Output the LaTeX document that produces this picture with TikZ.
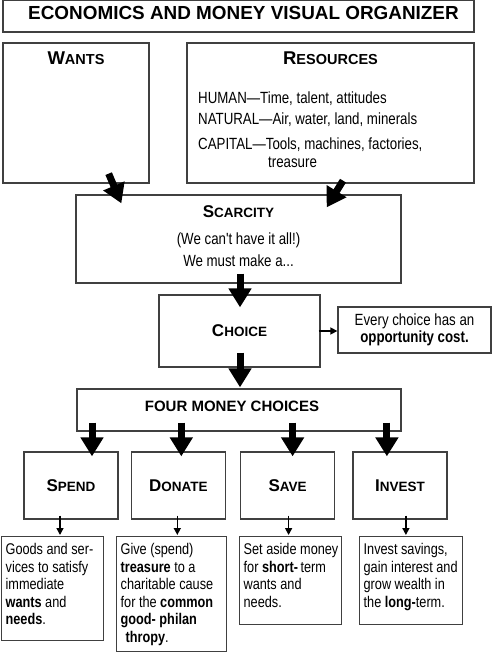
\documentclass[tikz,border=0pt]{standalone}
\usepackage{fontspec}
\setmainfont{Liberation Sans}
\newfontfamily\narrowfont[FakeStretch=0.82]{Liberation Sans}
\usetikzlibrary{arrows.meta,positioning,calc}
\newcommand{\descfont}{\narrowfont\fontsize{15.5pt}{17.5pt}\selectfont}
\newcommand{\listfont}{\narrowfont\fontsize{16.2pt}{17.5pt}\selectfont}
\newcommand{\headsc}[2]{{\rmfamily\bfseries\fontsize{18.5pt}{20pt}\selectfont #1\fontsize{14.5pt}{16pt}\selectfont #2}}
\newcommand{\boxsc}[2]{{\rmfamily\bfseries\fontsize{17pt}{19pt}\selectfont #1\fontsize{13.5pt}{15pt}\selectfont #2}}
\newcommand{\desclines}[3]{\makebox[#2][l]{\parbox[t][#1][t]{\dimexpr#2+20pt\relax}{\raggedright #3}}}
\newcommand{\lowerby}[1]{\rule[-#1]{0pt}{#1}}

\begin{document}
\begin{tikzpicture}[
    x=1pt, y=-1pt,
    box/.style={rectangle, draw=black!75, line width=1.3pt, inner sep=0pt},
    choicebox/.style={box, minimum width=94pt, minimum height=67pt},
    descbox/.style={box, anchor=north west, inner xsep=4pt, inner ysep=7pt, font=\descfont},
    bigarrow/.style={line width=7pt, -{Triangle[width=22pt,length=19pt]}},
    smallarrow/.style={line width=1.5pt, -{Triangle[width=7pt,length=7pt]}}
]
    \useasboundingbox (0,0) rectangle (500,660);

    \node[box, minimum width=471pt, minimum height=32pt] (title) at (238.5,16) {\bfseries\fontsize{18.9pt}{20pt}\selectfont\hspace*{10pt}ECONOMICS AND MONEY VISUAL ORGANIZER\lowerby{6pt}};

    \node[box, minimum width=146pt, minimum height=140pt] (wants) at (76,113) {};
    \node[below=9pt of wants.north, inner sep=0pt] (wantshead) {\headsc{W}{ANTS}};
    \node[box, minimum width=287pt, minimum height=140pt] (resources) at (330.5,113) {};
    \node[below=9pt of resources.north, inner sep=0pt] (reshead) {\headsc{R}{ESOURCES}};
    \node[anchor=north west, align=left, inner sep=0pt, font=\listfont] (reslist) at (198,92) {HUMAN—Time, talent, attitudes\\[3.5pt]
        NATURAL—Air, water, land, minerals\\[7.5pt]
        CAPITAL—Tools, machines, factories,\\
        \hspace*{70pt}treasure};

    \node[box, minimum width=325pt, minimum height=88pt, align=center, font=\listfont] (scarcity) at (238.5,239) {\boxsc{S}{CARCITY}\\[10pt]
        (We can't have it all!)\\[4.5pt]
        We must make a...\lowerby{6pt}};

    \node[box, minimum width=161pt, minimum height=72pt] (choice) at (239.5,331) {\boxsc{C}{HOICE}};
    \node[box, minimum width=153pt, minimum height=46pt, align=center, font=\listfont] (opp) at (414.5,330) {Every choice has an\\\textbf{opportunity cost.}};

    \node[box, minimum width=324pt, minimum height=42pt] (four) at (239,410) {\bfseries\fontsize{15pt}{17pt}\selectfont\hspace*{-14pt}FOUR MONEY CHOICES\lowerby{8pt}};

    \node[choicebox] (spend) at (71,485.5) {\boxsc{S}{PEND}};
    \node[choicebox, right=12pt of spend] (donate) {\boxsc{D}{ONATE}};
    \node[choicebox, right=14pt of donate] (save) {\boxsc{S}{AVE}};
    \node[choicebox, right=17pt of save] (invest) {\boxsc{I}{NVEST}};

    \node[descbox] (spenddesc) at (1,536) {\desclines{90pt}{94pt}{Goods and ser-\\vices to satisfy\\immediate\\\textbf{wants} and\\\textbf{needs}.}};
    \node[descbox] (donatedesc) at (116,536) {\desclines{101pt}{102pt}{Give (spend)\\\textbf{treasure} to a\\charitable cause\\for the \textbf{common}\\\textbf{good- philan}\\\hspace*{5pt}\textbf{thropy}.}};
    \node[descbox] (savedesc) at (239,536) {\desclines{74pt}{94pt}{Set aside money\\for \textbf{short-}\thinspace term\\wants and\\needs.}};
    \node[descbox] (investdesc) at (359,536) {\desclines{74pt}{95pt}{Invest savings,\\gain interest and\\grow wealth in\\the \textbf{long-}term.}};

    \draw[bigarrow] ($(wants.south east)+(-41,-10)$) -- ($(scarcity.north west)+(46,9)$);
    \draw[bigarrow] ($(resources.south)+(12.5,-3)$) -- ($(scarcity.north east)+(-75,13)$);
    \draw[bigarrow] ($(scarcity.south)+(1.5,-10)$) -- ($(choice.north)+(0.5,13)$);
    \draw[smallarrow] ($(choice.east)+(-2,0)$) -- (choice.east -| opp.west);
    \draw[bigarrow] ($(choice.south)+(0.5,-15)$) -- ($(four.north)+(1,-1)$);

    \draw[bigarrow] ($(spend.north |- four.south)+(21,-9)$) -- ($(spend.north)+(21,5)$);
    \draw[bigarrow] ($(donate.north |- four.south)+(3,-9)$) -- ($(donate.north)+(3,5)$);
    \draw[bigarrow] ($(save.north |- four.south)+(5,-9)$) -- ($(save.north)+(5,5)$);
    \draw[bigarrow] ($(invest.north |- four.south)+(-13,-9)$) -- ($(invest.north)+(-13,5)$);

    \draw[smallarrow] ($(spend.south)+(-11,-4)$) -- ($(spend.south |- spenddesc.north)+(-11,-1)$);
    \draw[smallarrow] ($(donate.south)+(-1,-4)$) -- ($(donate.south |- donatedesc.north)+(-1,-1)$);
    \draw[smallarrow] ($(save.south)+(1,-4)$) -- ($(save.south |- savedesc.north)+(1,-1)$);
    \draw[smallarrow] ($(invest.south)+(6,-4)$) -- ($(invest.south |- investdesc.north)+(6,-1)$);
\end{tikzpicture}
\end{document}
